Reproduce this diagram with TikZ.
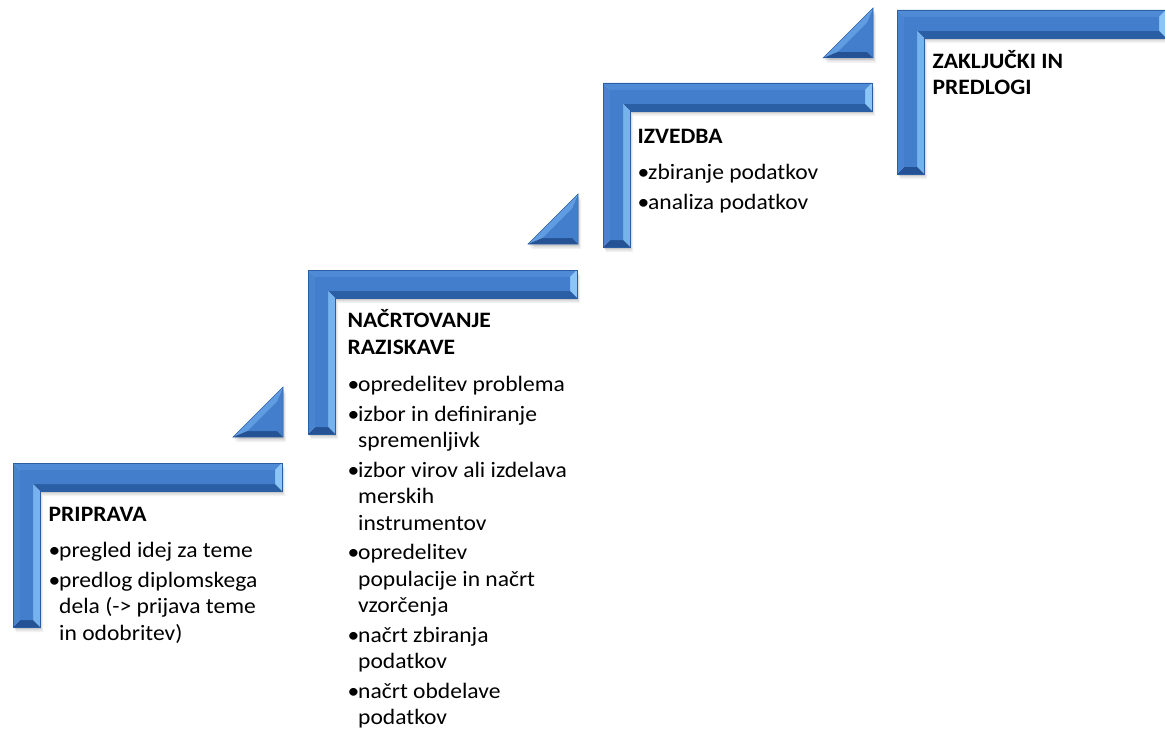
\documentclass[tikz,border=0pt]{standalone}
\usepackage{fontspec}
\setmainfont{Carlito}[FakeStretch=1.07]
\definecolor{bmain}{RGB}{66,126,204}
\definecolor{btop}{RGB}{78,138,213}
\definecolor{bleft}{RGB}{72,132,208}
\definecolor{bdark}{RGB}{42,94,165}
\definecolor{bdarker}{RGB}{36,82,148}
\definecolor{blight}{RGB}{118,178,238}
\definecolor{bhyp}{RGB}{96,156,226}
\definecolor{bcap}{RGB}{140,198,246}
\newcommand\itm[1]{\makebox[10.5pt][l]{•}#1}
\newcommand\cnt[1]{\hspace*{10.5pt}#1}
\tikzset{
  txt/.style={anchor=base west, inner sep=0pt, text=black,
    font=\fontsize{22}{26.5}\selectfont},
  pics/corner/.style={code={
    \foreach \d/\o in {2/0.10,3.5/0.07,5/0.05}{
      \fill[black,opacity=\o] (0.6*\d,\d) -- ++(269,0) -- ++(0,28) -- ++(-242,0) -- ++(0,136) -- ++(-27,0) -- cycle;
    }
    \fill[btop]   (0,0) -- (269,0) -- (262,7) -- (7,7) -- cycle;
    \fill[bcap]   (269,0) -- (269,28) -- (262,21) -- (262,7) -- cycle;
    \fill[bdark]  (269,28) -- (27,28) -- (20,21) -- (262,21) -- cycle;
    \fill[blight] (27,28) -- (27,164) -- (20,157) -- (20,21) -- cycle;
    \fill[bdarker](27,164) -- (0,164) -- (7,157) -- (20,157) -- cycle;
    \fill[bleft]  (0,164) -- (0,0) -- (7,7) -- (7,157) -- cycle;
    \fill[bmain]  (7,7) -- (262,7) -- (262,21) -- (20,21) -- (20,157) -- (7,157) -- cycle;
    \draw[bdark,line width=0.5pt] (0,0) -- (269,0) -- (269,28) -- (27,28) -- (27,164) -- (0,164) -- cycle;
  }},
  pics/wedge/.style={code={
    \foreach \d/\o in {2/0.10,3.5/0.07,5/0.05}{
      \fill[black,opacity=\o] (0.6*\d,50+\d) -- ++(50,-50) -- ++(0,50) -- cycle;
    }
    \fill[bhyp]   (0,50) -- (50,0) -- (44,14.5) -- (14.5,44) -- cycle;
    \fill[bmain]  (50,0) -- (50,50) -- (44,44) -- (44,14.5) -- cycle;
    \fill[bdarker](50,50) -- (0,50) -- (14.5,44) -- (44,44) -- cycle;
    \fill[bmain]  (14.5,44) -- (44,14.5) -- (44,44) -- cycle;
    \draw[bdark,line width=0.5pt] (0,50) -- (50,0) -- (50,50) -- cycle;
  }}
}
\begin{document}
\begin{tikzpicture}[x=1pt,y=-1pt]
\useasboundingbox (0,0) rectangle (1165,733);
% steps
\pic (s1) at (13,463) {corner};
\pic (s2) at (308,270) {corner};
\pic (s3) at (603,83) {corner};
\pic (s4) at (897,10) {corner};
% wedges
\pic (w1) at (233,387) {wedge};
\pic (w2) at (528,194) {wedge};
\pic (w3) at (823,8) {wedge};
% texts
\node[txt] (t1) at (48.5,521) {\begin{tabular}[t]{@{}l@{}}
\textbf{PRIPRAVA}\\[10pt]
\itm{pregled idej za teme}\\[3pt]
\itm{predlog diplomskega}\\
\cnt{dela (-> prijava teme}\\
\cnt{in odobritev)}
\end{tabular}};
\node[txt] (t2) at (347.5,327.7) {\begin{tabular}[t]{@{}l@{}}
\textbf{NAČRTOVANJE}\\
\textbf{RAZISKAVE}\\[11pt]
\itm{opredelitev problema}\\[3pt]
\itm{izbor in definiranje}\\
\cnt{spremenljivk}\\[3pt]
\itm{izbor virov ali izdelava}\\
\cnt{merskih}\\
\cnt{instrumentov}\\[3pt]
\itm{opredelitev}\\
\cnt{populacije in načrt}\\
\cnt{vzorčenja}\\[3pt]
\itm{načrt zbiranja}\\
\cnt{podatkov}\\[3pt]
\itm{načrt obdelave}\\
\cnt{podatkov}
\end{tabular}};
\node[txt] (t3) at (637.5,143.3) {\begin{tabular}[t]{@{}l@{}}
\textbf{IZVEDBA}\\[10pt]
\itm{zbiranje podatkov}\\[3pt]
\itm{analiza podatkov}
\end{tabular}};
\node[txt] (t4) at (932.5,68.3) {\begin{tabular}[t]{@{}l@{}}
\textbf{ZAKLJUČKI IN}\\
\textbf{PREDLOGI}
\end{tabular}};
\end{tikzpicture}
\end{document}
